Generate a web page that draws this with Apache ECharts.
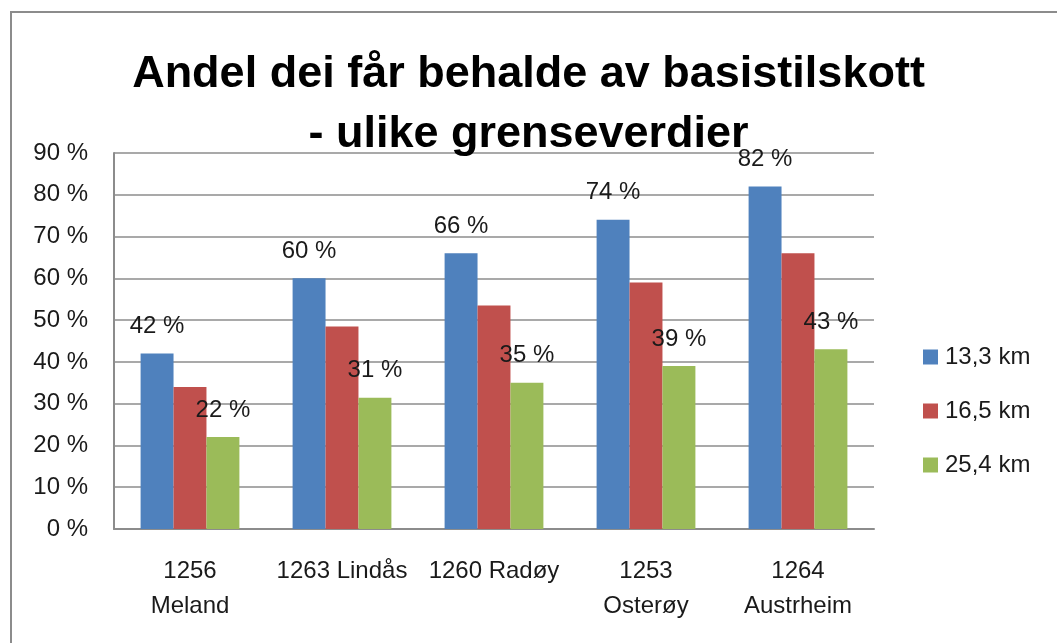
<!DOCTYPE html>
<html>
<head>
<meta charset="utf-8">
<script src="https://cdn.jsdelivr.net/npm/echarts@6/dist/echarts.min.js"></script>
<style>
  html, body { margin: 0; padding: 0; background: #fff; }
  #chart { width: 1057px; height: 643px; }
</style>
</head>
<body>
<div id="chart"></div>
<script>
// kommunar
var categories = ['1256\nMeland', '1263 Lindås', '1260 Radøy', '1253\nOsterøy', '1264\nAustrheim'];
var seriesNames = ['13,3 km', '16,5 km', '25,4 km'];
// andel (%) per grenseverdi
var km133 = [42, 60, 66, 74, 82];
var km165 = [34, 48.5, 53.5, 59, 66];
var km254 = [22, 31.4, 35, 39, 43];
var yTicks = [0, 10, 20, 30, 40, 50, 60, 70, 80, 90];

var font = 'Liberation Sans, Arial, sans-serif';
var labelStyle = {
    show: true,
    position: 'top',
    distance: 15,
    fontFamily: font,
    fontSize: 24,
    color: '#1a1a1a',
    formatter: function (p) { return Math.round(p.value) + ' %'; }
};

var chart = echarts.init(document.getElementById('chart'));
chart.setOption({
    backgroundColor: '#fff',
    animation: false,
    color: ['#4F81BD', '#C0504D', '#9BBB59'],
    title: {
        text: 'Andel dei får behalde av basistilskott\n- ulike grenseverdier',
        left: 'center',
        top: 40,
        textStyle: {
            fontFamily: font,
            fontWeight: 'bold',
            fontSize: 45,
            lineHeight: 60,
            color: '#000'
        }
    },
    legend: {
        orient: 'vertical',
        left: 918,
        top: 340,
        itemWidth: 15,
        itemHeight: 15,
        itemGap: 30,
        icon: 'rect',
        data: seriesNames,
        textStyle: { fontFamily: font, fontSize: 24, color: '#1a1a1a', padding: [0, 0, 0, 2] }
    },
    grid: { left: 114, right: 183, top: 153, bottom: 114 },
    xAxis: {
        type: 'category',
        data: categories,
        axisLine: { lineStyle: { color: '#8c8c8c', width: 2 } },
        axisTick: { show: false },
        axisLabel: {
            margin: 25,
            interval: 0,
            fontFamily: font,
            fontSize: 24,
            lineHeight: 35,
            color: '#1a1a1a'
        }
    },
    yAxis: {
        type: 'value',
        min: 0,
        max: 90,
        interval: 10,
        axisLine: { show: true, lineStyle: { color: '#8c8c8c', width: 2 } },
        axisTick: { show: false },
        splitLine: { lineStyle: { color: '#8c8c8c', width: 1.5 } },
        axisLabel: {
            margin: 26,
            fontFamily: font,
            fontSize: 24,
            color: '#1a1a1a',
            formatter: function (v) { return yTicks.indexOf(v) >= 0 ? v + ' %' : ''; }
        }
    },
    series: [
        { name: seriesNames[0], type: 'bar', data: km133, barGap: '0%', barCategoryGap: '35%', label: labelStyle },
        { name: seriesNames[1], type: 'bar', data: km165, barGap: '0%', barCategoryGap: '35%' },
        { name: seriesNames[2], type: 'bar', data: km254, barGap: '0%', barCategoryGap: '35%', label: labelStyle }
    ],
    graphic: [{
        type: 'polyline',
        shape: { points: [[11, 660], [11, 12], [1070, 12]] },
        style: { stroke: '#8c8c8c', lineWidth: 2, fill: null }
    }]
});
</script>
</body>
</html>
